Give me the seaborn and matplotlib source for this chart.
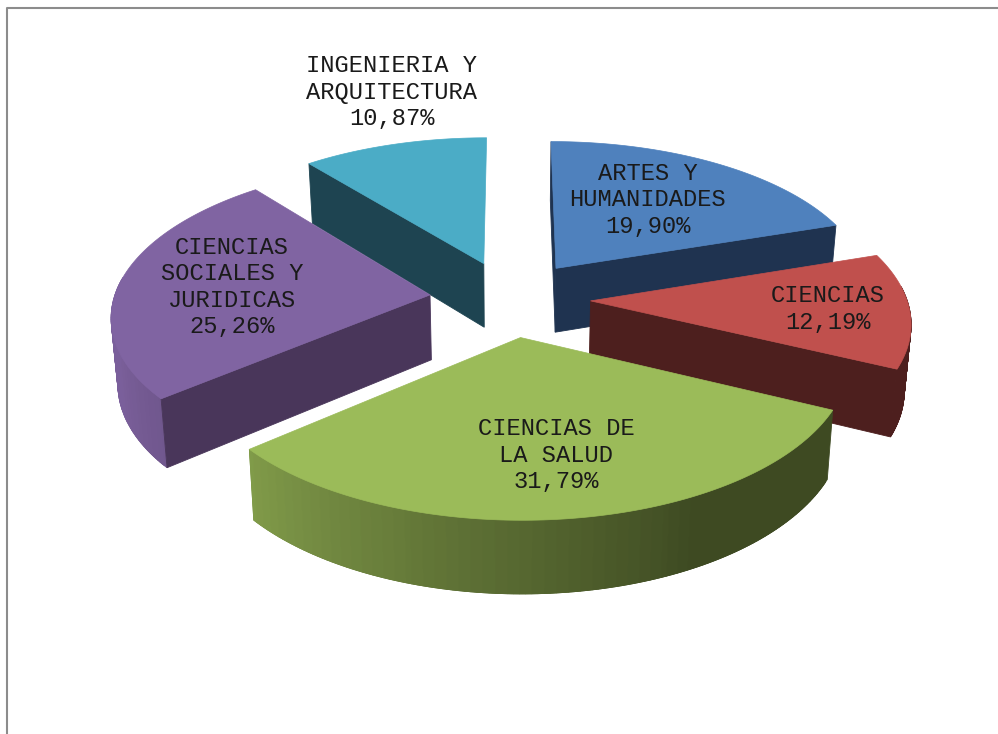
import numpy as np
import matplotlib.pyplot as plt
import seaborn as sns

sns.set_style('white')
plt.rcParams['font.family'] = ['Liberation Mono', 'DejaVu Sans']

# datos del grafico (orden de las agujas del reloj desde arriba)
categorias = ['ARTES Y\nHUMANIDADES', 'CIENCIAS', 'CIENCIAS DE\nLA SALUD',
              'CIENCIAS\nSOCIALES Y\nJURIDICAS', 'INGENIERIA Y\nARQUITECTURA']
porcentajes = [19.90, 12.19, 31.79, 25.26, 10.87]
colores = ['#4f81bd', '#c0504d', '#9bbb59', '#8064a2', '#4bacc6']
colores_pared = ['#1f3350', '#4d1f1e', '#3e4a22', '#49365a', '#1e4451']
pos_etiquetas = [(648, 200), (828, 309), (556, 455), (232, 287), (392, 92)]
orden_dibujo = [4, 0, 3, 1, 2]

# proyeccion en pixeles
CX, CY = 510, 298.5
A, B = 316, 149.5
K = 0.124
EXPLOSION = 0.255
GROSOR = 65
ESCALA_X = 0.983
ESCALA_Y = 0.985


def proyectar(X, Y, abajo=False):
    s = 1 / (1 + K * Y)
    x = A * X * s
    y = -B * Y * s
    if abajo:
        return CX + x * ESCALA_X, CY + y * ESCALA_Y + GROSOR * s
    return CX + x, CY + y


def cuadro(ax, x0, y0, x1, y1, color):
    ax.fill(np.r_[x0, x1[::-1]], np.r_[y0, y1[::-1]], color=color, lw=0.6)


fig = plt.figure(figsize=(9.98, 7.34), dpi=100)
ax = fig.add_axes([0, 0, 1, 1])
ax.set_xlim(0, 998)
ax.set_ylim(734, 0)
ax.axis('off')

# marco del grafico
ax.plot([7, 7, 998], [734, 8, 8], color='#8c8c8c', lw=1.5, solid_capstyle='butt')

angulos = np.cumsum([0] + porcentajes) / sum(porcentajes) * 360

for i in orden_dibujo:
    ini, fin = angulos[i], angulos[i + 1]
    medio = np.radians((ini + fin) / 2)
    ox, oy = EXPLOSION * np.sin(medio), EXPLOSION * np.cos(medio)
    t = np.radians(np.linspace(ini, fin, 121))
    bx, by = ox + np.sin(t), oy + np.cos(t)

    # pared exterior con degradado segun el angulo (solo la parte de delante)
    gradiente = sns.blend_palette([colores_pared[i], colores[i]], 60)
    for j in range(len(t) - 1):
        if np.cos(t[j]) > 0.1:
            continue
        grados = np.degrees(t[j])
        nivel = min(max((grados - 150) / 110, 0), 0.9)
        color = gradiente[int(nivel * 59)]
        sx, sy = bx[j:j + 3], by[j:j + 3]
        cuadro(ax, *proyectar(sx, sy), *proyectar(sx, sy, True), color)

    # paredes rectas, solo las que miran hacia delante
    for e, visible in ((0, np.sin(t[0]) < 1e-9 and ini < 359), (-1, np.sin(t[-1]) > 1e-9)):
        if not visible:
            continue
        rx = np.linspace(ox, bx[e], 2)
        ry = np.linspace(oy, by[e], 2)
        cuadro(ax, *proyectar(rx, ry), *proyectar(rx, ry, True), colores_pared[i])

    # cara superior
    top_x, top_y = proyectar(np.r_[ox, bx], np.r_[oy, by])
    ax.fill(top_x, top_y, color=colores[i], lw=0.5)

for nombre, valor, (x, y) in zip(categorias, porcentajes, pos_etiquetas):
    texto = nombre + '\n' + f'{valor:.2f}'.replace('.', ',') + '%'
    ax.text(x, y, texto, ha='center', va='center', fontsize=17.1, color='#1a1a1a',
            linespacing=1.2)

fig.savefig('out.png', dpi=100, facecolor='white')
